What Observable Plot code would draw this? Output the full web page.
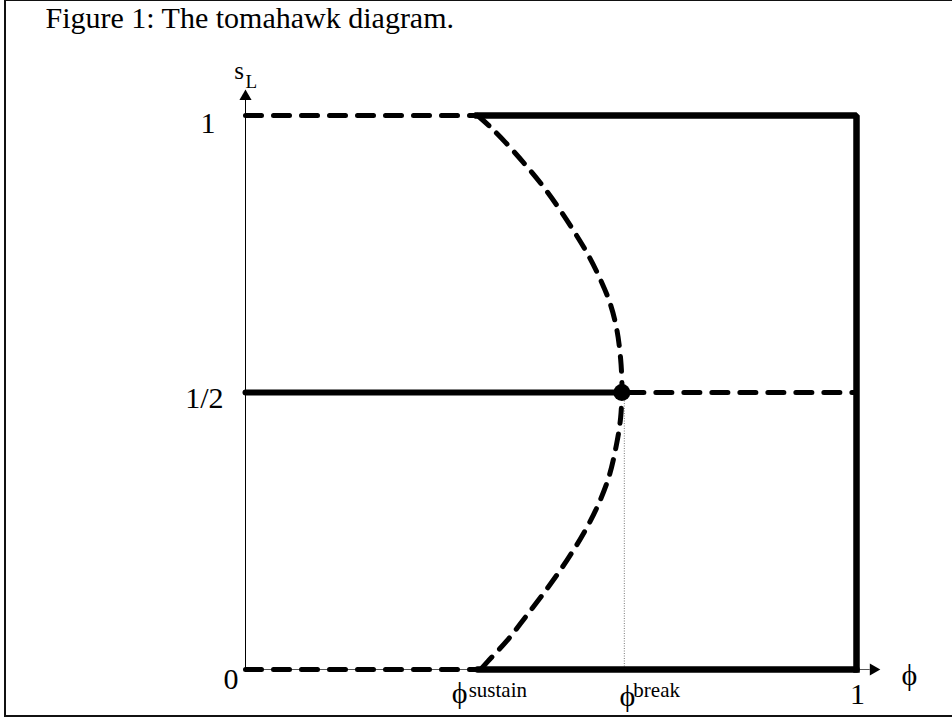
<!DOCTYPE html>
<html>
<head>
<meta charset="utf-8">
<script src="https://cdn.jsdelivr.net/npm/d3@7"></script>
<script src="https://cdn.jsdelivr.net/npm/@observablehq/plot@0.6"></script>
<style>
  html, body { margin: 0; padding: 0; background: #fff; }
  #wrap { position: relative; width: 952px; height: 718px; overflow: hidden; }
  #border { position: absolute; left: 4px; top: -1px; width: 1000px; height: 718px; box-sizing: border-box; border: 2px solid #111; pointer-events: none; }
  #chart { position: absolute; left: 0; top: 0; }
</style>
</head>
<body>
<div id="wrap"><div id="chart"></div><div id="border"></div></div>
<script>
// ---- data ----
const title = "Figure 1: The tomahawk diagram.";
const phiSustain = 0.38;
const phiBreak = 0.62;
// curve of interior equilibria (phi, sL)
const curvePhi = [0.380, 0.400, 0.425, 0.455, 0.485, 0.512, 0.537, 0.560, 0.580, 0.597, 0.608, 0.614, 0.616, 0.616, 0.614, 0.607, 0.594, 0.575, 0.553, 0.526, 0.495, 0.462, 0.428, 0.397, 0.385];
const curveSL  = [1.000, 0.980, 0.952, 0.915, 0.875, 0.834, 0.792, 0.750, 0.706, 0.660, 0.612, 0.560, 0.520, 0.500, 0.455, 0.405, 0.345, 0.292, 0.245, 0.197, 0.148, 0.100, 0.052, 0.015, 0.000];
const breakPoint = {phi: 0.616, sL: 0.5};
// stable (solid) equilibria
const solidTop = [[phiSustain, 1], [1, 1], [1, 0]];
const solidBottom = [[phiSustain, 0], [1, 0]];
const solidMid = [[0, 0.5], [breakPoint.phi, 0.5]];
// unstable (dashed) equilibria
const dashedTop = [[0, 1], [phiSustain, 1]];
const dashedBottom = [[0, 0], [phiSustain, 0]];
const dashedMid = [[breakPoint.phi, 0.5], [1, 0.5]];
// axes
const axisXEnd = 1.021, axisYEnd = 1.03;
const arrowXTip = 1.039, arrowYTip = 1.047;
// tick labels
const yTickLabels = ["0", "1/2", "1"];
const yTickValues = [0, 0.5, 1];
const xTickLabel = "1";
const xAxisLabel = "ϕ";
const yAxisLabel = ["s", "L"];
const phiLabels = [{phi: phiSustain, sup: "sustain"}, {phi: phiBreak, sup: "break"}];

const font = "'Liberation Serif', 'Times New Roman', serif";
const curve = curvePhi.map((p, i) => ({phi: p, sL: curveSL[i]}));
const big = 30, sup = 21;

const plot = Plot.plot({
  width: 952,
  height: 718,
  marginLeft: 245,
  marginRight: 96,
  marginTop: 115,
  marginBottom: 49,
  x: {domain: [0, 1], axis: null},
  y: {domain: [0, 1], axis: null},
  style: {fontFamily: font, background: "white", overflow: "visible"},
  marks: [
    // title
    Plot.text([title], {frameAnchor: "top-left", dx: 45 - 245, dy: -115 + 27, text: d => d, textAnchor: "start", lineAnchor: "bottom", fontSize: 30, fill: "#000"}),
    // axes
    Plot.line([[0, 0], [0, axisYEnd]], {stroke: "#000", strokeWidth: 1}),
    Plot.line([[0, 0], [axisXEnd, 0]], {stroke: "#555", strokeWidth: 1}),
    Plot.dot([[0, arrowYTip]], {symbol: "triangle", r: 4.5, fill: "#000", stroke: null, dy: 7}),
    Plot.dot([[arrowXTip, 0]], {symbol: "triangle", r: 4.5, fill: "#000", stroke: null, dx: -7, rotate: 90}),
    // thin dotted guide at phi break
    Plot.ruleX([phiBreak], {y1: 0, y2: 0.5, stroke: "#666", strokeWidth: 0.9, strokeDasharray: "1,1.5"}),
    // dashed (unstable) lines
    Plot.line(dashedTop, {stroke: "#000", strokeWidth: 5, strokeDasharray: "16,12"}),
    Plot.line(dashedBottom, {stroke: "#000", strokeWidth: 5, strokeDasharray: "16,12"}),
    Plot.line(dashedMid, {stroke: "#000", strokeWidth: 5, strokeDasharray: "16,12", strokeDashoffset: -6}),
    Plot.line(curve, {x: "phi", y: "sL", curve: "catmull-rom", stroke: "#000", strokeWidth: 5, strokeDasharray: "15,11"}),
    // solid (stable) lines
    Plot.line(solidTop, {stroke: "#000", strokeWidth: 6.5, strokeLinejoin: "miter", strokeLinecap: "square"}),
    Plot.line(solidBottom, {stroke: "#000", strokeWidth: 6.5}),
    Plot.line(solidMid, {stroke: "#000", strokeWidth: 6}),
    Plot.dot([breakPoint], {x: "phi", y: "sL", r: 8.5, fill: "#000", stroke: null}),
    // y tick labels
    Plot.text([yTickValues[2]], {x: 0, y: d => d, text: () => yTickLabels[2], textAnchor: "end", lineAnchor: "bottom", dx: -30, dy: 17, fontSize: big, fill: "#000"}),
    Plot.text([yTickValues[1]], {x: 0, y: d => d, text: () => yTickLabels[1], textAnchor: "end", lineAnchor: "bottom", dx: -22, dy: 15, fontSize: big, fill: "#000"}),
    Plot.text([yTickValues[0]], {x: 0, y: d => d, text: () => yTickLabels[0], textAnchor: "end", lineAnchor: "bottom", dx: -7, dy: 19, fontSize: big, fill: "#000"}),
    // x tick label "1"
    Plot.text([1], {x: d => d, y: 0, text: () => xTickLabel, textAnchor: "middle", lineAnchor: "bottom", dx: 1, dy: 34, fontSize: big, fill: "#000"}),
    // axis labels
    Plot.text([0], {x: 0, y: 1, text: () => xAxisLabel, textAnchor: "middle", lineAnchor: "bottom", dx: 909 - 245, dy: 684 - 115, fontSize: big, fill: "#000"}),
    Plot.text([yAxisLabel[0]], {x: 0, y: 1, text: d => d, textAnchor: "middle", lineAnchor: "bottom", dx: -6.5, dy: -37, fontSize: 25, fill: "#000"}),
    Plot.text([yAxisLabel[1]], {x: 0, y: 1, text: d => d, textAnchor: "start", lineAnchor: "bottom", dx: 0, dy: -28, fontSize: 19, fill: "#000"}),
    // phi^sustain, phi^break
    Plot.text(phiLabels.slice(0, 1), {x: "phi", y: 0, text: () => "ϕ", textAnchor: "middle", lineAnchor: "bottom", dx: -18, dy: 33, fontSize: big, fill: "#000"}),
    Plot.text(phiLabels.slice(0, 1), {x: "phi", y: 0, text: "sup", textAnchor: "start", lineAnchor: "bottom", dx: -9, dy: 27, fontSize: sup, fill: "#000"}),
    Plot.text(phiLabels.slice(1), {x: "phi", y: 0, text: () => "ϕ", textAnchor: "middle", lineAnchor: "bottom", dx: 3, dy: 36, fontSize: big, fill: "#000"}),
    Plot.text(phiLabels.slice(1), {x: "phi", y: 0, text: "sup", textAnchor: "start", lineAnchor: "bottom", dx: 9, dy: 27, fontSize: sup, fill: "#000"})
  ]
});
document.getElementById("chart").appendChild(plot);
</script>
</body>
</html>
